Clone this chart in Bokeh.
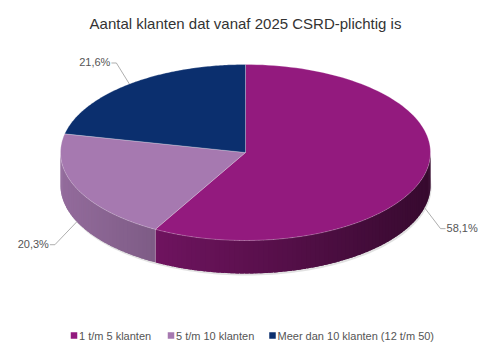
import numpy as np
from bokeh.plotting import figure
from bokeh.models import Range1d
from bokeh.embed import file_html
from bokeh.resources import INLINE
from bokeh.core.properties import value

# ---------------- data ----------------
title = "Aantal klanten dat vanaf 2025 CSRD-plichtig is"
categories = ["1 t/m 5 klanten", "5 t/m 10 klanten", "Meer dan 10 klanten (12 t/m 50)"]
shares = [58.1, 20.3, 21.6]
share_labels = ["58,1%", "20,3%", "21,6%"]
colors = ["#931a7e", "#a679b0", "#0b2f6e"]

# ---------------- layout ----------------
W, H = 500, 352
CX, CY, RX, RY, DEPTH = 245.0, 152.0, 185.0, 88.0, 33.0
FONT = value("Liberation Sans")

p = figure(width=W, height=H, x_range=Range1d(0, W), y_range=Range1d(H, 0),
           output_backend="svg", toolbar_location=None, min_border=0)
p.axis.visible = False
p.grid.visible = False
p.outline_line_color = None
p.background_fill_color = "white"
p.border_fill_color = "white"


def pt(theta_deg, dy=0.0):
    t = np.radians(theta_deg)
    return CX + RX * np.sin(t), CY - RY * np.cos(t) + dy


def hex_to_rgb(h):
    return tuple(int(h[i:i + 2], 16) for i in (1, 3, 5))


def shade(h, f):
    r, g, b = hex_to_rgb(h)
    return "#%02x%02x%02x" % tuple(max(0, min(255, int(round(c * f)))) for c in (r, g, b))


total = float(sum(shares))
bounds = np.concatenate([[0.0], np.cumsum(shares) / total * 360.0])

# shadow under the pie
ts = np.linspace(0, 360, 181)
sx, sy = pt(ts, DEPTH + 2.0)
p.patch(list(sx + 1.0), list(sy), fill_color="#c8c8c8", fill_alpha=0.55, line_color=None)

# side walls (front half only), drawn as shaded, slightly overlapping strips
xs_all, ys_all, cs_all = [], [], []
for i, col in enumerate(colors):
    a0, a1 = max(bounds[i], 90.0), min(bounds[i + 1], 270.0)
    if a1 <= a0:
        continue
    n = max(2, int((a1 - a0) / 1.5))
    edges = np.linspace(a0, a1, n + 1)
    step = edges[1] - edges[0]
    for e0 in edges[:-1]:
        e1 = min(e0 + step * 1.8, a1)
        th = np.linspace(e0, e1, 4)
        tx, ty = pt(th)
        xs_all.append(list(tx) + list(tx[::-1]))
        ys_all.append(list(ty) + list(ty[::-1] + DEPTH))
        xm = float(np.mean(tx))
        f = 0.88 - (xm - 65.0) * 0.0014
        cs_all.append(shade(col, f))
p.patches(xs_all, ys_all, fill_color=cs_all, line_color=None)

# vertical edge at slice boundaries on the side
for b in bounds[1:-1]:
    if 90.0 < b < 270.0:
        bx, by = pt(b)
        p.line([bx, bx], [by, by + DEPTH], line_color="white", line_alpha=0.25, line_width=0.8)

# top surface
for i, col in enumerate(colors):
    th = np.linspace(bounds[i], bounds[i + 1], 120)
    ax, ay = pt(th)
    xs = [CX] + list(ax)
    ys = [CY] + list(ay)
    p.patch(xs, ys, fill_color=col, line_color="white", line_alpha=0.3, line_width=0.8)

# labels with leader lines
for i, lab in enumerate(share_labels):
    mid = (bounds[i] + bounds[i + 1]) / 2
    front = 90.0 < mid < 270.0
    ax, ay = pt(mid, DEPTH if front else 0.0)
    right = np.sin(np.radians(mid)) > 0
    if front:
        ex, ey = ax + (16 if right else -22), ay + (21 if right else 23)
    else:
        ex, ey = ax - 13, ay - 21
    hx = ex + (5 if right else -5)
    p.line([ax, ex, hx], [ay, ey, ey], line_color="#999999", line_width=0.8)
    p.text([hx + (1 if right else -1)], [ey - 1], text=[lab], text_font=FONT,
           text_font_size="11px", text_color="#555555",
           text_align="left" if right else "right", text_baseline="middle")

# title
p.text([W / 2 - 5], [23], text=[title], text_font=FONT, text_font_size="15px",
       text_color="#333333", text_align="center", text_baseline="middle")

# legend
leg_x = [73.5, 170.5, 272]
p.scatter(leg_x, [335] * 3, marker="square", size=6.5, fill_color=colors, line_color=None)
p.text([x + 5 for x in leg_x], [335] * 3, text=categories, text_font=FONT,
       text_font_size="11px", text_color="#555555", text_align="left", text_baseline="middle")

open("out.html", "w").write(file_html(p, INLINE))
